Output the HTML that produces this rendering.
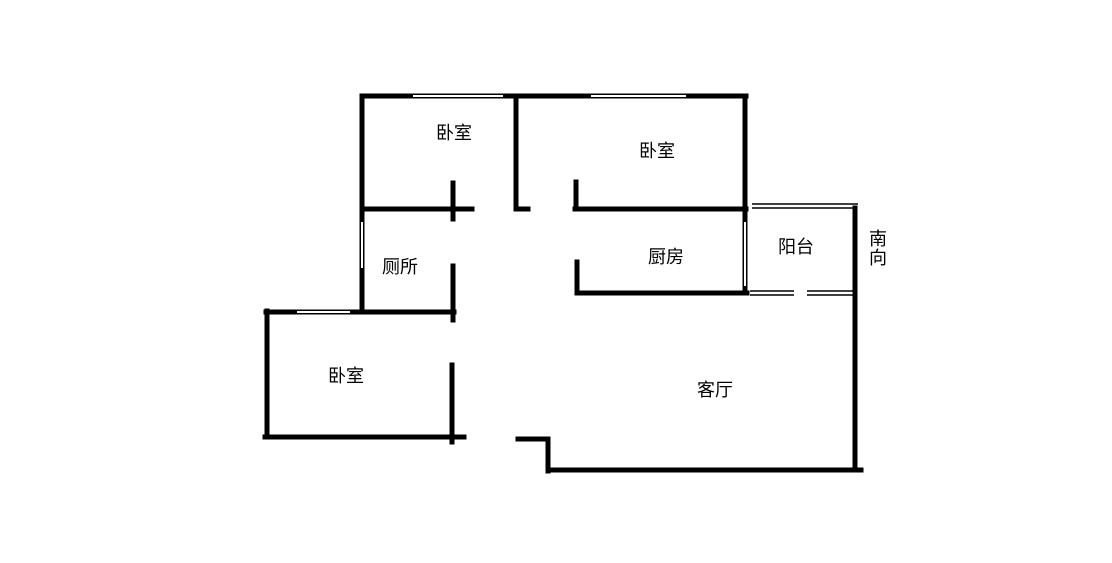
<!DOCTYPE html>
<html><head><meta charset="utf-8"><style>
html,body{margin:0;padding:0;background:#fff;width:1112px;height:563px;overflow:hidden}
text{font-family:"Liberation Sans","Noto Sans CJK SC",sans-serif;font-size:18px;fill:#000}
</style></head><body>
<svg width="1112" height="563" xmlns="http://www.w3.org/2000/svg">
<g stroke="#000" stroke-width="5" fill="none" stroke-linecap="square">
<line x1="362" y1="96" x2="746" y2="96"/>
<line x1="362" y1="96" x2="362" y2="210"/>
<line x1="362" y1="210" x2="362" y2="312"/>
<line x1="516" y1="96" x2="516" y2="209"/>
<line x1="516" y1="209" x2="528" y2="209"/>
<line x1="362" y1="209" x2="472" y2="209"/>
<line x1="453" y1="183" x2="453" y2="219"/>
<line x1="575" y1="209" x2="746" y2="209"/>
<line x1="576" y1="182" x2="576" y2="209"/>
<line x1="745" y1="96" x2="745" y2="293"/>
<line x1="577" y1="262" x2="577" y2="293"/>
<line x1="577" y1="293" x2="747" y2="293"/>
<line x1="855" y1="208" x2="855" y2="465"/>
<line x1="453" y1="266" x2="453" y2="320"/>
<line x1="266" y1="312" x2="454" y2="312"/>
<line x1="267" y1="311" x2="267" y2="437"/>
<line x1="265" y1="437" x2="464" y2="437"/>
<line x1="452" y1="365" x2="452" y2="442"/>
<line x1="518" y1="439" x2="548" y2="439"/>
<line x1="548" y1="439" x2="548" y2="471"/>
<line x1="548" y1="470" x2="861" y2="470"/>
</g>
<g stroke="#fff" stroke-width="2">
<line x1="413" y1="96" x2="503" y2="96"/>
<line x1="591" y1="96" x2="686" y2="96"/>
<line x1="362" y1="222" x2="362" y2="268"/>
<line x1="745" y1="222" x2="745" y2="286"/>
<line x1="297" y1="312" x2="350" y2="312"/>
</g>
<g stroke="#000" stroke-width="1.5">
<line x1="752" y1="204" x2="858" y2="204"/>
<line x1="752" y1="208" x2="855" y2="208"/>
<line x1="750" y1="291" x2="794" y2="291"/>
<line x1="750" y1="295" x2="794" y2="295"/>
<line x1="807" y1="291" x2="855" y2="291"/>
<line x1="807" y1="295" x2="855" y2="295"/>
</g>
<text x="436" y="139">卧室</text>
<text x="639" y="157">卧室</text>
<text x="328" y="382">卧室</text>
<text x="382" y="273">厕所</text>
<text x="648" y="263">厨房</text>
<text x="778" y="253">阳台</text>
<text x="697" y="396">客厅</text>
<text x="869" y="245">南</text>
<text x="869" y="264">向</text>
</svg>
</body></html>
